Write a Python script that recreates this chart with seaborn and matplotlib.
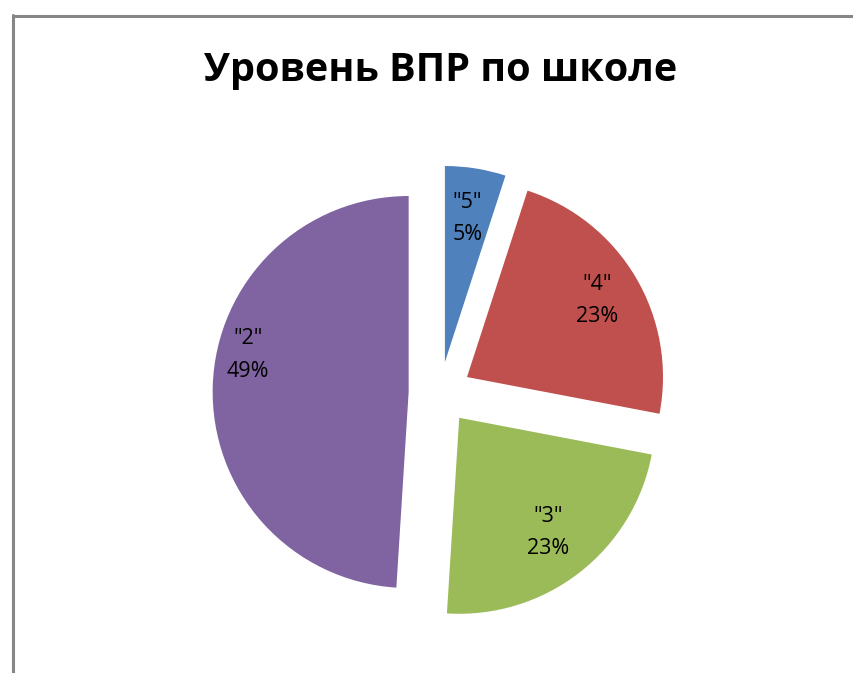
import numpy as np
import matplotlib.pyplot as plt
import seaborn as sns
from matplotlib.lines import Line2D

sns.set_style("white")
plt.rcParams['font.family'] = ['Open Sans', 'DejaVu Sans']
plt.rcParams['text.color'] = 'black'

# данные
оценки = ['"5"', '"4"', '"3"', '"2"']
проценты = [5, 23, 23, 49]
цвета = ["#4F81BD", "#C0504D", "#9BBB59", "#8064A2"]
# расстояние подписи от центра (доля радиуса)
расст_подписи = [0.74, 0.77, 0.74, 0.84]

fig = plt.figure(figsize=(8.54, 6.73), dpi=100)

# рамка диаграммы (как в Excel)
fig.add_artist(Line2D([13.5 / 854, 13.5 / 854], [0, 1 - 15 / 673], transform=fig.transFigure,
                      color="#868686", lw=2.2))
fig.add_artist(Line2D([13.5 / 854, 1], [1 - 15.5 / 673, 1 - 15.5 / 673], transform=fig.transFigure,
                      color="#868686", lw=2.2))

fig.text(441 / 854, 1 - 70 / 673, "Уровень ВПР по школе", ha="center", va="center",
         fontsize=28.5, fontweight="bold", color="black")

# оси: квадрат 588x588 px с центром в (440, 393)
ax = fig.add_axes([(440 - 294) / 854, (280 - 294) / 673, 588 / 854, 588 / 673])
wedges, _ = ax.pie(проценты, colors=цвета, startangle=90, counterclock=False,
                   explode=[0.16] * 4, radius=1.0, wedgeprops=dict(linewidth=0))
ax.set_xlim(-1.5, 1.5)
ax.set_ylim(-1.5, 1.5)
ax.set_aspect("auto")
ax.axis("off")

for w, lab, p, d in zip(wedges, оценки, проценты, расст_подписи):
    ang = np.deg2rad((w.theta1 + w.theta2) / 2)
    cx, cy = w.center
    if lab == '"2"':
        ang = np.deg2rad(167)
    ax.text(cx + d * np.cos(ang), cy + d * np.sin(ang), f"{lab}\n{p}%",
            ha="center", va="center", fontsize=15.5, linespacing=1.7, color="black")

fig.savefig("out.png", dpi=100)
